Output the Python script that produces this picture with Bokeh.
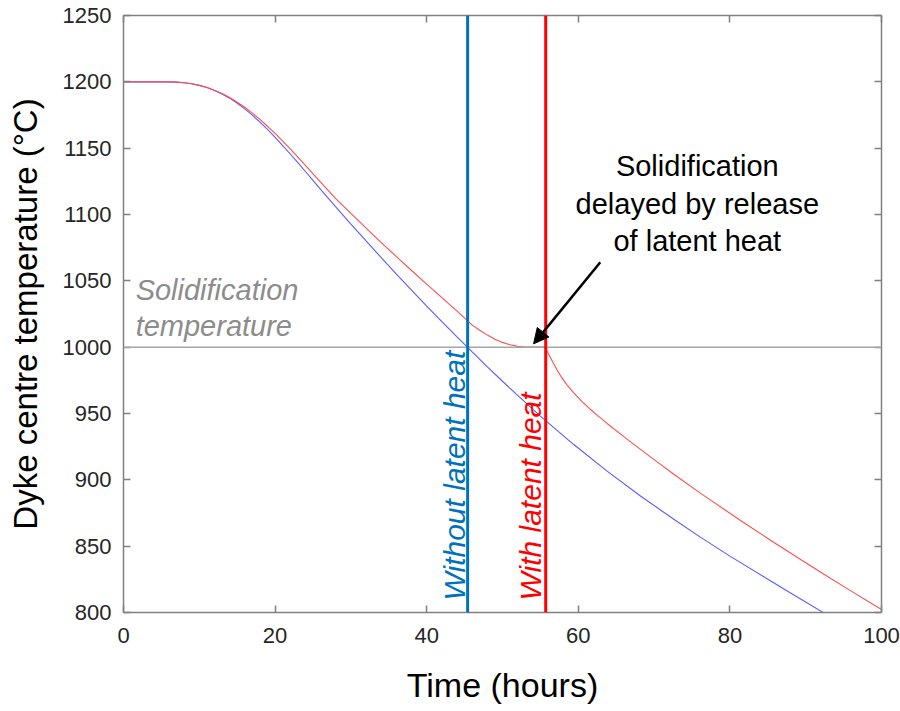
import math
from bokeh.plotting import figure
from bokeh.models import (Range1d, LinearAxis, Span, Label, Arrow, NormalHead,
                          FixedTicker)
from bokeh.core.properties import value
from bokeh.embed import file_html
from bokeh.resources import INLINE

# ---------------- data ----------------
time_without = [0, 6, 7, 8, 9, 10, 11, 12, 13, 14, 15, 16, 17, 18, 19, 20, 21, 22, 23,
                24, 25, 26, 28, 30, 32, 34, 36, 38, 40, 42, 44, 46, 48, 50, 52, 55,
                59.4, 63.8, 68.2, 72.6, 76.1, 80, 84.9, 88, 92.4]
temp_without = [1200, 1200, 1199.8, 1199.35, 1198.55, 1197.35, 1195.7, 1193.55, 1190.9,
                1187.7, 1183.9, 1179.6, 1174.85, 1169.65, 1164.1, 1158.2, 1152.0,
                1145.6, 1139.05, 1132.4, 1125.7, 1119.0, 1105.8, 1092.8, 1080.1,
                1067.5, 1055.1, 1043.0, 1031.0, 1019.3, 1007.7, 996.4, 985.2, 974.3,
                963.6, 948.0, 926.6, 906.6, 887.8, 870.3, 856.8, 842.5, 825.4, 814.7,
                799.7]

time_with = [0, 6, 7, 8, 9, 10, 11, 12, 13, 14, 15, 16, 17, 18, 19, 20, 21, 22, 23, 24,
             25, 26, 28, 30, 32, 34, 36, 38, 40, 42, 44, 45.2, 46, 47, 48, 49, 50, 51,
             52, 53, 54, 55.6, 55.8, 56.0, 56.3, 56.7, 57.2, 57.8, 58.5, 59.4, 60.5,
             61.5, 62.6, 63.8, 66, 68.2, 70.4, 72.6, 76.1, 81.4, 85, 88.5, 92.4, 96,
             100]
temp_with = [1200, 1200, 1199.8, 1199.35, 1198.55, 1197.35, 1195.75, 1193.7, 1191.2,
             1188.2, 1184.6, 1180.8, 1176.4, 1171.65, 1166.5, 1161.1, 1155.3, 1149.4,
             1143.2, 1137.0, 1130.7, 1124.4, 1112.0, 1100.8, 1089.8, 1078.8, 1068.3,
             1057.8, 1047.5, 1037.3, 1027.1, 1021.0, 1016.6, 1012.7, 1009.1, 1006.0,
             1003.6, 1001.8, 1000.6, 1000.1, 1000.0, 1000.0, 997.8, 995.6, 992.4,
             988.0, 982.8, 977.2, 971.6, 965.5, 959.0, 953.6, 948.2, 942.5, 932.6,
             923.0, 913.5, 904.2, 890.0, 869.4, 855.8, 842.9, 828.8, 816.1, 802.2]

solidification_temp = 1000
solid_time_without = 45.4
solid_time_with = 55.7

x_ticks = [0, 20, 40, 60, 80, 100]
y_ticks = [800, 850, 900, 950, 1000, 1050, 1100, 1150, 1200, 1250]

note_lines = ["Solidification", "delayed by release", "of latent heat"]
note_x = [75.7, 75.7, 75.7]
note_y = [1136.6, 1107.9, 1079.7]

solid_label_lines = ["Solidification", "temperature"]
solid_label_x = [1.6, 1.6]
solid_label_y = [1043.0, 1016.0]

vertical_label_y = 809
arrow_from = (62.9, 1064.0)
arrow_to = (54.1, 1002.5)

FONT = "Liberation Sans"
AXIS_GREY = "#808080"
TICK_TEXT = "#262626"
PX_PER_HOUR = 758 / 100.0

# ---------------- figure ----------------
p = figure(width=900, height=711, x_range=Range1d(0, 100), y_range=Range1d(800, 1250),
           output_backend="svg", toolbar_location=None,
           min_border_left=123, min_border_right=19, min_border_top=15,
           min_border_bottom=99, background_fill_color="white",
           border_fill_color="white")
p.outline_line_color = None
p.xgrid.visible = False
p.ygrid.visible = False


def style_axis(ax, show_labels=True):
    ax.axis_line_color = AXIS_GREY
    ax.axis_line_width = 1.5
    ax.major_tick_line_color = AXIS_GREY
    ax.major_tick_line_width = 1.5
    ax.major_tick_in = 7
    ax.major_tick_out = 0
    ax.minor_tick_line_color = None
    ax.major_label_text_font = FONT
    if show_labels:
        ax.major_label_text_color = TICK_TEXT
        ax.major_label_text_font_size = "22px"
    else:
        ax.major_label_text_color = None
        ax.major_label_text_font_size = "0px"
        ax.major_label_standoff = 0


xa = p.xaxis[0]
ya = p.yaxis[0]
xa.ticker = FixedTicker(ticks=x_ticks)
ya.ticker = FixedTicker(ticks=y_ticks)
style_axis(xa)
style_axis(ya)
xa.major_label_standoff = 15
ya.major_label_standoff = 12
xa.axis_label = "Time (hours)"
ya.axis_label = "Dyke centre temperature (°C)"
for ax in (xa, ya):
    ax.axis_label_text_font = FONT
    ax.axis_label_text_font_style = "normal"
    ax.axis_label_text_color = "black"
xa.axis_label_text_font_size = "34px"
ya.axis_label_text_font_size = "33px"
xa.axis_label_standoff = 20
ya.axis_label_standoff = 16

ra = LinearAxis(ticker=FixedTicker(ticks=y_ticks))
style_axis(ra, show_labels=False)
p.add_layout(ra, "right")
ta = LinearAxis(ticker=FixedTicker(ticks=x_ticks))
style_axis(ta, show_labels=False)
p.add_layout(ta, "above")

# solidification temperature line
p.add_layout(Span(location=solidification_temp, dimension="width",
                  line_color="#a6a6a6", line_width=1.5))

# curves
p.line(time_without, temp_without, line_color="#5a5aff", line_width=1.1)
p.line(time_with, temp_with, line_color="#ff4d4d", line_width=1.1)

# vertical solidification-time lines
p.add_layout(Span(location=solid_time_without, dimension="height",
                  line_color="#0072BD", line_width=3))
p.add_layout(Span(location=solid_time_with, dimension="height",
                  line_color="#ff0000", line_width=3))

# rotated labels (centre of text placed a few pixels left of each line)
p.add_layout(Label(x=solid_time_without - 13.5 / PX_PER_HOUR, y=vertical_label_y,
                   text="Without latent heat",
                   angle=math.pi / 2, text_font=FONT, text_font_style="italic",
                   text_font_size="30px", text_color="#0072BD",
                   text_align="left", text_baseline="middle"))
p.add_layout(Label(x=solid_time_with - 15 / PX_PER_HOUR, y=vertical_label_y,
                   text="With latent heat",
                   angle=math.pi / 2, text_font=FONT, text_font_style="italic",
                   text_font_size="30px", text_color="#ff0000",
                   text_align="left", text_baseline="middle"))

# solidification temperature label
p.text(x=solid_label_x, y=solid_label_y, text=solid_label_lines,
       text_font=value(FONT), text_font_style="italic", text_font_size="29px",
       text_color="#8c8c8c", text_align="left", text_baseline="middle")

# annotation
p.text(x=note_x, y=note_y, text=note_lines,
       text_font=value(FONT), text_font_size="29px", text_color="black",
       text_align="center", text_baseline="middle")
p.add_layout(Arrow(end=NormalHead(size=15, fill_color="black", line_color="black"),
                   x_start=arrow_from[0], y_start=arrow_from[1],
                   x_end=arrow_to[0], y_end=arrow_to[1],
                   line_color="black", line_width=2.5))

open("out.html", "w").write(file_html(p, INLINE))
